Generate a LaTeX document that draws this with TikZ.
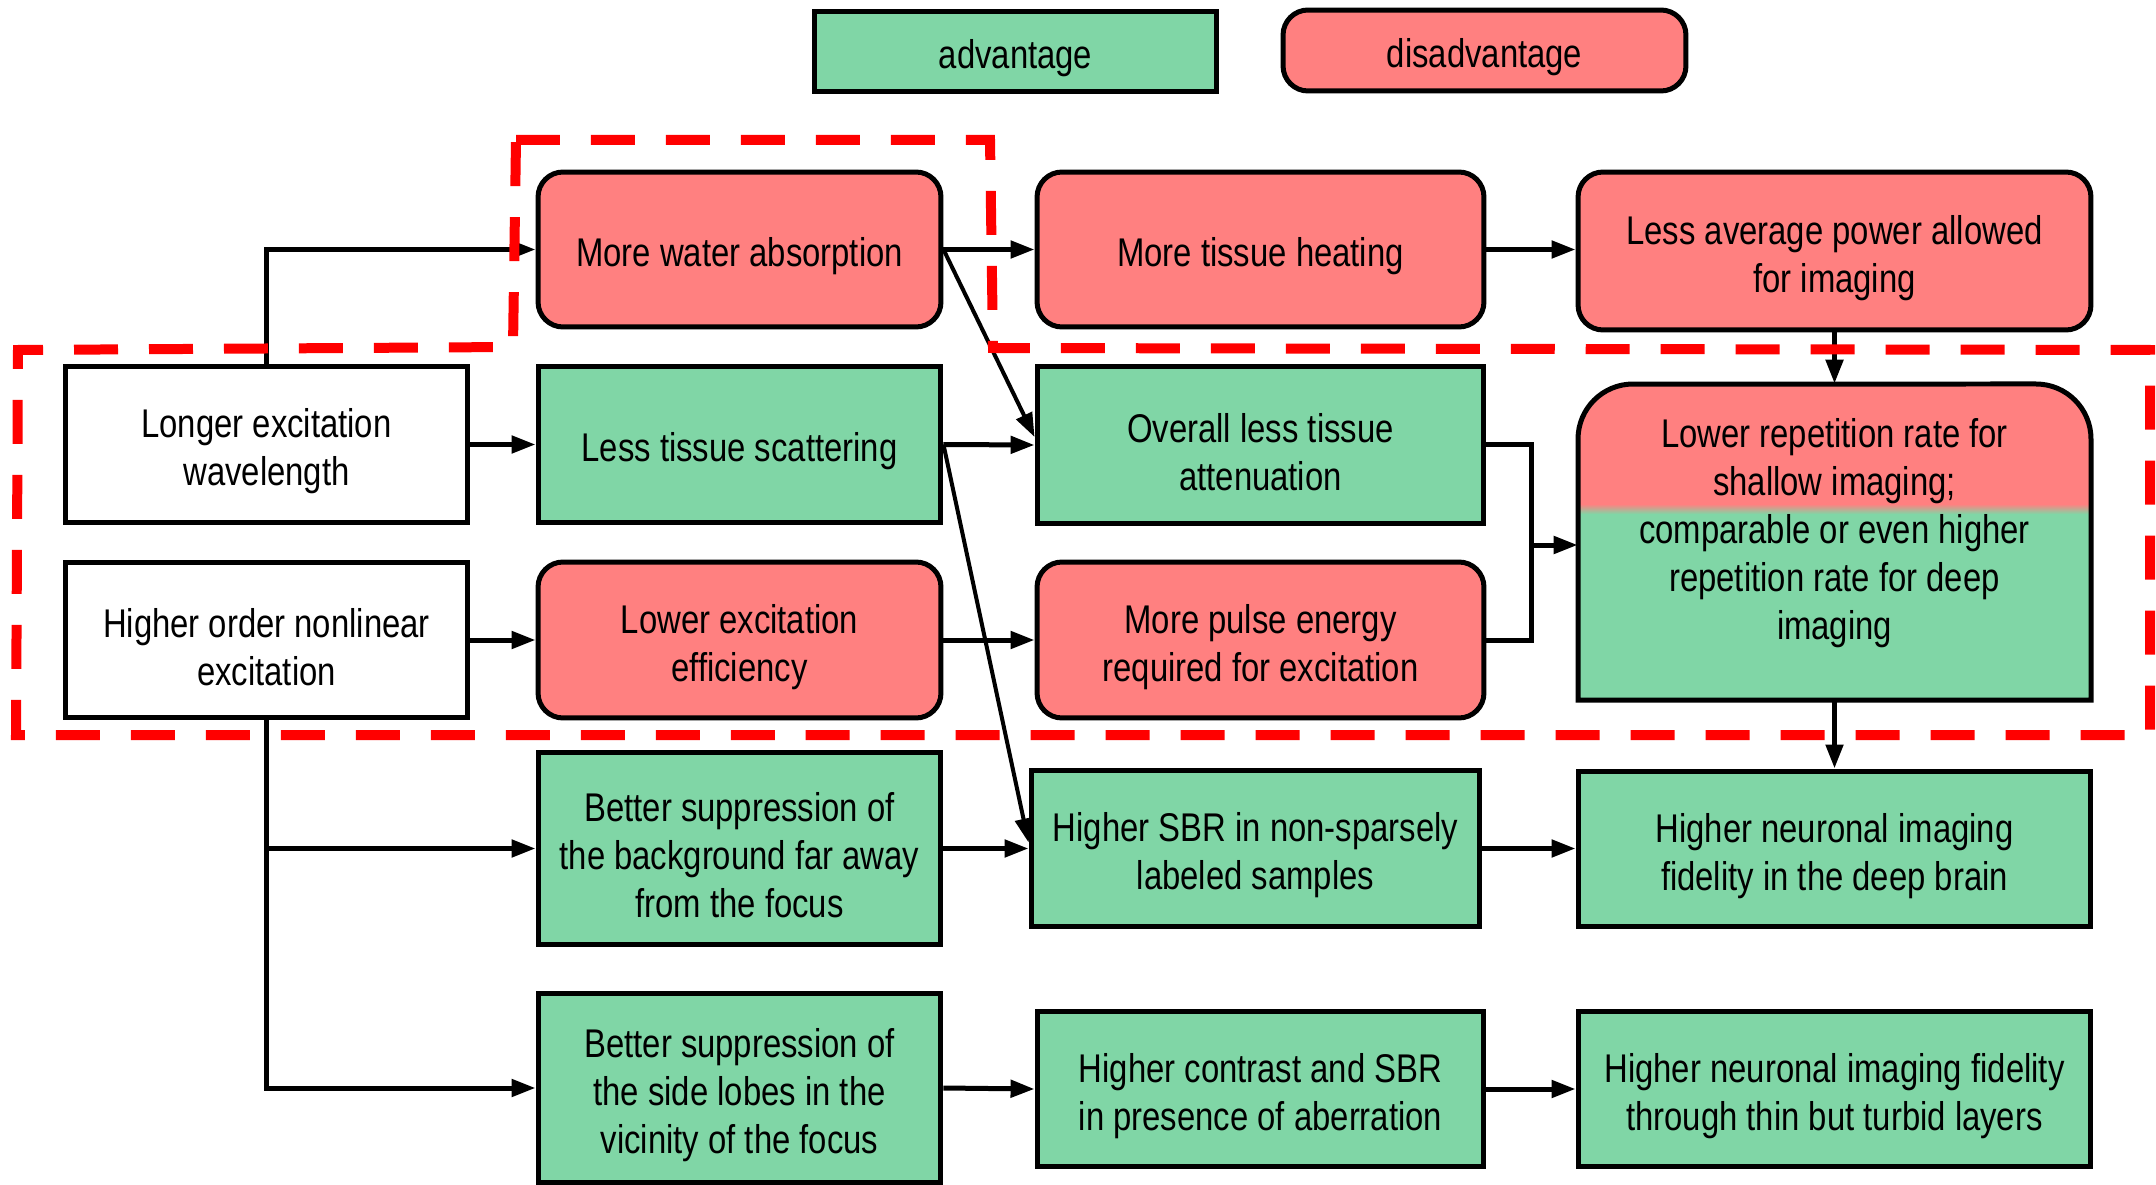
\documentclass[tikz,border=0pt]{standalone}
\usepackage{fontspec}
\setmainfont{Liberation Sans}[FakeStretch=0.82]
\usetikzlibrary{arrows.meta}
\definecolor{gfill}{RGB}{128,214,166}
\definecolor{rfill}{RGB}{255,128,128}
\definecolor{dred}{RGB}{255,0,0}
\begin{document}
\begin{tikzpicture}[x=0.02cm,y=0.02cm,
  txt/.style={align=center, inner sep=0pt, text=black, font=\fontsize{22.8pt}{27.3pt}\selectfont},
  box/.style={draw=black, line width=0.1cm, inner sep=0pt},
  gbox/.style={box, fill=gfill},
  rbox/.style={box, fill=rfill, rounded corners=0.5cm},
  wbox/.style={box, fill=white},
  say/.style={label={[txt, yshift=-0.14cm]center:{#1}}},
  conn/.style={line width=0.1cm, -{Triangle[length=0.48cm,width=0.34cm]}},
  thinconn/.style={line width=0.08cm, -{Triangle[length=0.48cm,width=0.34cm]}},
  plain/.style={line width=0.1cm},
  zone/.style={draw=dred, line width=0.2cm, dash pattern=on 0.88cm off 0.62cm}]
\useasboundingbox (0,0) rectangle (2156,-1185);

% legend
\node[gbox, minimum width=8.06cm, minimum height=1.62cm, say={advantage}] (adv) at (1015.5,-51.5) {};
\node[rbox, minimum width=8.06cm, minimum height=1.62cm, say={disadvantage}] (dis) at (1484.5,-50.5) {};

% column 1
\node[wbox, minimum width=8.06cm, minimum height=3.14cm, say={Longer excitation\\wavelength}] (longer) at (266.5,-444.5) {};
\node[wbox, minimum width=8.06cm, minimum height=3.12cm, say={Higher order nonlinear\\excitation}] (higher) at (266.5,-640) {};

% column 2
\node[rbox, minimum width=8.06cm, minimum height=3.1cm, say={More water absorption}] (water) at (739.5,-249.5) {};
\node[gbox, minimum width=8.06cm, minimum height=3.14cm, say={Less tissue scattering}] (scat) at (739.5,-444.5) {};
\node[rbox, minimum width=8.06cm, minimum height=3.12cm, say={Lower excitation\\efficiency}] (lowexc) at (739.5,-640) {};
\node[gbox, minimum width=8.06cm, minimum height=3.86cm, say={Better suppression of\\the background far away\\from the focus}] (bg) at (739.5,-848.5) {};
\node[gbox, minimum width=8.06cm, minimum height=3.8cm, say={Better suppression of\\the side lobes in the\\vicinity of the focus}] (side) at (739.5,-1088) {};

% column 3
\node[rbox, minimum width=8.94cm, minimum height=3.1cm, say={More tissue heating}] (heat) at (1260.5,-249.5) {};
\node[gbox, minimum width=8.94cm, minimum height=3.14cm, say={Overall less tissue\\attenuation}] (atten) at (1260.5,-445) {};
\node[rbox, minimum width=8.94cm, minimum height=3.12cm, say={More pulse energy\\required for excitation}] (pulse) at (1260.5,-640) {};
\node[gbox, minimum width=8.98cm, minimum height=3.14cm, say={Higher SBR in non-sparsely\\labeled samples}] (sbr) at (1255.5,-848.5) {};
\node[gbox, minimum width=8.94cm, minimum height=3.12cm, say={Higher contrast and SBR\\in presence of aberration}] (contrast) at (1260.5,-1089) {};

% column 4
\node[rbox, minimum width=10.26cm, minimum height=3.16cm, say={Less average power allowed\\for imaging}] (power) at (1834.5,-251) {};
\def\reppath{(1578,-700) -- (1578,-439) arc[start angle=180,end angle=90,radius=1.1cm] -- (2036,-384) arc[start angle=90,end angle=0,radius=1.1cm] -- (2091,-700) -- cycle}
\begin{scope}
  \clip \reppath;
  \fill[rfill] (1570,-380) rectangle (2100,-504);
  \shade[top color=rfill, bottom color=gfill] (1570,-504) rectangle (2100,-514);
  \fill[gfill] (1570,-514) rectangle (2100,-710);
\end{scope}
\draw[line width=0.1cm] \reppath;
\node[inner sep=0pt, minimum width=10.26cm, minimum height=6.32cm] (rep) at (1834.5,-542) {};
\node[txt] (reptext) at (1834.5,-533) {Lower repetition rate for\\shallow imaging;\\comparable or even higher\\repetition rate for deep\\imaging};
\node[gbox, minimum width=10.26cm, minimum height=3.12cm, say={Higher neuronal imaging\\fidelity in the deep brain}] (deep) at (1834.5,-849) {};
\node[gbox, minimum width=10.26cm, minimum height=3.12cm, say={Higher neuronal imaging fidelity\\through thin but turbid layers}] (thin) at (1834.5,-1089) {};

% connectors
\draw[conn] (longer.north) |- (water.west);
\draw[conn] (longer.east) -- (scat.west);
\draw[conn] (higher.east) -- (lowexc.west);
\draw[conn] (higher.south) |- (bg.west);
\draw[conn] (higher.south) |- (side.west);
\draw[conn] (water.east) -- (heat.west);
\draw[thinconn] (water.east) -- ([yshift=0.16cm]atten.west);
\draw[conn] (scat.east) -- (atten.west);
\draw[thinconn] (scat.east) -- ([yshift=0.12cm]sbr.west);
\draw[conn] (lowexc.east) -- (pulse.west);
\draw[conn] (bg.east) -- (sbr.west);
\draw[conn] (side.east) -- (contrast.west);
\draw[conn] (heat.east) -- (heat.east -| power.west);
\draw[conn] (power.south) -- (rep.north);
\coordinate (m) at (1531,-545);
\draw[plain] (atten.east) -| (m) |- (pulse.east);
\draw[conn] (m) -- (m -| rep.west);
\draw[conn] (rep.south) -- (deep.north);
\draw[conn] (sbr.east) -- (sbr.east -| deep.west);
\draw[conn] (contrast.east) -- (thin.west);

% dashed zone
\draw[zone] (516,-140) -- (990,-140) -- (993,-348) -- (2150,-350) -- (2150,-735) -- (16,-735) -- (18,-350) -- (513,-347) -- cycle;
\end{tikzpicture}
\end{document}
